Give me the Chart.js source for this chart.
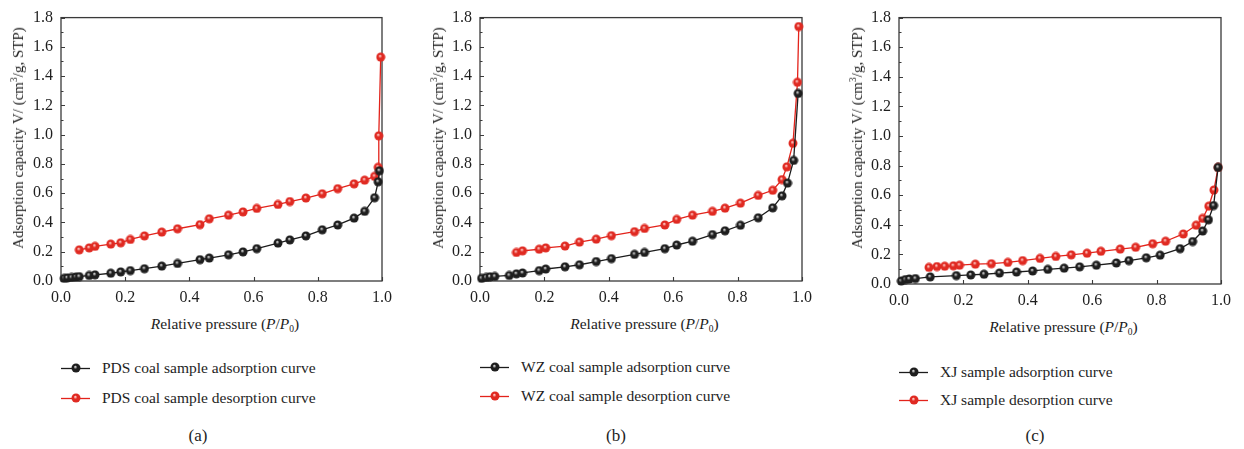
<!DOCTYPE html>
<html>
<head>
<meta charset="utf-8">
<script src="https://cdn.jsdelivr.net/npm/chart.js@4.4.0/dist/chart.umd.min.js"></script>
<style>
  html, body { margin: 0; padding: 0; background: #fff; }
  body { width: 1244px; height: 449px; position: relative; overflow: hidden;
         font-family: 'Liberation Serif', 'Times New Roman', 'DejaVu Serif', serif; color: #1e1e1e; }
  .abs { position: absolute; white-space: nowrap; }
  .ytitle { font-size: 15px; transform: translate(-50%, -50%) rotate(-90deg); }
  .xtitle { font-size: 15.5px; transform: translate(-50%, -50%); }
  .leg { font-size: 15.5px; transform: translateY(-50%); }
  .cap { font-size: 17px; transform: translate(-50%, -50%); }
  sup { font-size: 9.5px; vertical-align: 6px; }
  sub { font-size: 9.5px; vertical-align: -3px; }
</style>
</head>
<body>
<script>
// ---- data ----
// (a) PDS coal
const pdsAdsX = [0.01, 0.02, 0.033, 0.046, 0.057, 0.088, 0.106, 0.155, 0.186, 0.216, 0.26, 0.314, 0.363, 0.433, 0.462, 0.522, 0.567, 0.61, 0.676, 0.713, 0.763, 0.814, 0.862, 0.913, 0.946, 0.977, 0.988, 0.992];
const pdsAdsY = [0.018, 0.021, 0.024, 0.027, 0.03, 0.038, 0.042, 0.053, 0.062, 0.071, 0.084, 0.102, 0.12, 0.146, 0.157, 0.179, 0.199, 0.221, 0.259, 0.281, 0.308, 0.35, 0.383, 0.43, 0.476, 0.569, 0.678, 0.753];
const pdsDesX = [0.057, 0.088, 0.106, 0.155, 0.186, 0.216, 0.26, 0.314, 0.363, 0.433, 0.462, 0.522, 0.567, 0.61, 0.676, 0.713, 0.763, 0.814, 0.862, 0.913, 0.946, 0.977, 0.988, 0.990, 0.996];
const pdsDesY = [0.213, 0.226, 0.237, 0.252, 0.261, 0.284, 0.308, 0.334, 0.357, 0.385, 0.425, 0.45, 0.472, 0.496, 0.523, 0.543, 0.567, 0.596, 0.631, 0.664, 0.689, 0.715, 0.777, 0.992, 1.53];

// (b) WZ coal
const wzAdsX = [0.005, 0.019, 0.031, 0.046, 0.091, 0.113, 0.132, 0.184, 0.204, 0.264, 0.309, 0.361, 0.408, 0.48, 0.511, 0.574, 0.611, 0.66, 0.722, 0.761, 0.809, 0.864, 0.909, 0.938, 0.955, 0.974, 0.988];
const wzAdsY = [0.018, 0.024, 0.029, 0.031, 0.038, 0.049, 0.055, 0.071, 0.082, 0.097, 0.111, 0.133, 0.153, 0.182, 0.195, 0.221, 0.246, 0.272, 0.317, 0.343, 0.381, 0.432, 0.5, 0.582, 0.669, 0.824, 1.282];
const wzDesX = [0.113, 0.132, 0.184, 0.204, 0.264, 0.309, 0.361, 0.408, 0.48, 0.511, 0.574, 0.611, 0.66, 0.722, 0.761, 0.809, 0.864, 0.909, 0.938, 0.953, 0.972, 0.986, 0.990];
const wzDesY = [0.195, 0.206, 0.217, 0.226, 0.239, 0.266, 0.286, 0.31, 0.337, 0.359, 0.383, 0.421, 0.45, 0.476, 0.498, 0.532, 0.585, 0.62, 0.693, 0.78, 0.941, 1.358, 1.739];

// (c) XJ
const xjAdsX = [0.007, 0.02, 0.032, 0.051, 0.097, 0.178, 0.223, 0.264, 0.312, 0.365, 0.415, 0.462, 0.513, 0.561, 0.613, 0.675, 0.714, 0.768, 0.811, 0.873, 0.912, 0.943, 0.961, 0.977, 0.991];
const xjAdsY = [0.02, 0.03, 0.034, 0.037, 0.048, 0.057, 0.061, 0.066, 0.074, 0.081, 0.088, 0.099, 0.107, 0.116, 0.127, 0.142, 0.158, 0.177, 0.195, 0.239, 0.287, 0.358, 0.434, 0.53, 0.788];
const xjDesX = [0.093, 0.118, 0.142, 0.169, 0.188, 0.237, 0.287, 0.338, 0.384, 0.438, 0.487, 0.535, 0.584, 0.627, 0.687, 0.735, 0.788, 0.828, 0.883, 0.923, 0.943, 0.962, 0.978, 0.991];
const xjDesY = [0.112, 0.118, 0.12, 0.123, 0.127, 0.134, 0.137, 0.146, 0.158, 0.173, 0.186, 0.197, 0.208, 0.221, 0.236, 0.248, 0.272, 0.289, 0.338, 0.397, 0.443, 0.526, 0.635, 0.788];

const xTicks = [0, 0.2, 0.4, 0.6, 0.8, 1.0];
const yTicks = [0, 0.2, 0.4, 0.6, 0.8, 1.0, 1.2, 1.4, 1.6, 1.8];

const legendA = ['PDS coal sample adsorption curve', 'PDS coal sample desorption curve'];
const legendB = ['WZ coal sample adsorption curve', 'WZ coal sample desorption curve'];
const legendC = ['XJ sample adsorption curve', 'XJ sample desorption curve'];

const BLACK = '#1c1c1c';
const RED = '#e3231b';
const FONT = "'Liberation Serif', 'Times New Roman', 'DejaVu Serif', serif";

// little shaded ball used as marker
function ball(fill, light) {
  const c = document.createElement('canvas');
  c.width = 10; c.height = 10;
  const g = c.getContext('2d');
  const grad = g.createRadialGradient(4.2, 3.8, 0.3, 5, 5, 5);
  grad.addColorStop(0, light);
  grad.addColorStop(0.35, fill);
  grad.addColorStop(1, fill);
  g.fillStyle = grad;
  g.beginPath(); g.arc(5, 5, 4.5, 0, Math.PI * 2); g.fill();
  return c;
}
const blackBall = ball('#1e1e1e', '#d8d8d8');
const redBall = ball('#e02a22', '#ffd0cc');

function pts(xs, ys) { return xs.map((x, i) => ({ x: x, y: ys[i] })); }

// frame + inward ticks
const framePlugin = {
  id: 'frame',
  beforeDatasetsDraw(chart) {
    const { ctx, chartArea: a, scales } = chart;
    ctx.save();
    ctx.strokeStyle = '#3a3a3a';
    ctx.lineWidth = 1.3;
    ctx.strokeRect(a.left, a.top, a.right - a.left, a.bottom - a.top);
    ctx.lineWidth = 1.1;
    ctx.beginPath();
    for (let v = 0; v <= 1.8001; v += 0.1) {
      const y = Math.round(scales.y.getPixelForValue(v)) + 0.5;
      const major = Math.round(v * 10) % 2 === 0;
      ctx.moveTo(a.left, y); ctx.lineTo(a.left + (major ? 4 : 2.5), y);
    }
    xTicks.forEach(v => {
      const x = Math.round(scales.x.getPixelForValue(v)) + 0.5;
      ctx.moveTo(x, a.bottom); ctx.lineTo(x, a.bottom - 4);
    });
    ctx.stroke();
    ctx.restore();
  }
};

function addText(cls, left, top, html) {
  const d = document.createElement('div');
  d.className = 'abs ' + cls;
  d.style.left = left + 'px';
  d.style.top = top + 'px';
  d.innerHTML = html;
  document.body.appendChild(d);
}

function legendSwatch(left, top, color, img) {
  const c = document.createElement('canvas');
  c.width = 30; c.height = 12;
  c.style.position = 'absolute';
  c.style.left = left + 'px';
  c.style.top = (top - 6) + 'px';
  const g = c.getContext('2d');
  g.strokeStyle = color; g.lineWidth = 1.3;
  g.beginPath(); g.moveTo(0, 6.5); g.lineTo(29, 6.5); g.stroke();
  g.drawImage(img, 10, 1);
  document.body.appendChild(c);
}

function makePanel(p) {
  const yAxisW = 45, padR = 16, h = 312;
  const w = (p.right - p.left) + yAxisW + padR;
  const wrap = document.createElement('div');
  wrap.style.position = 'absolute';
  wrap.style.left = (p.left - yAxisW) + 'px';
  wrap.style.top = '0px';
  wrap.style.width = w + 'px';
  wrap.style.height = h + 'px';
  const cv = document.createElement('canvas');
  wrap.appendChild(cv);
  document.body.appendChild(wrap);

  new Chart(cv.getContext('2d'), {
    type: 'line',
    data: {
      datasets: [
        { data: pts(p.adsX, p.adsY), borderColor: BLACK, borderWidth: 1.3, pointStyle: blackBall, clip: false },
        { data: pts(p.desX, p.desY), borderColor: RED, borderWidth: 1.3, pointStyle: redBall, clip: false }
      ]
    },
    options: {
      responsive: true,
      maintainAspectRatio: false,
      animation: false,
      layout: { padding: { top: p.top, right: padR, left: 0, bottom: 0 } },
      plugins: { legend: { display: false }, tooltip: { enabled: false } },
      elements: { line: { tension: 0 }, point: { radius: 4.5 } },
      scales: {
        x: {
          type: 'linear', min: 0, max: 1,
          afterFit: s => { s.height = h - p.bottom; },
          afterBuildTicks: s => { s.ticks = xTicks.map(v => ({ value: v })); },
          grid: { display: false, drawTicks: false }, border: { display: false },
          ticks: { color: '#1e1e1e', padding: 7, maxRotation: 0, font: { family: FONT, size: 16 },
                   callback: v => v.toFixed(1) }
        },
        y: {
          type: 'linear', min: 0, max: 1.8,
          afterFit: s => { s.width = yAxisW; },
          afterBuildTicks: s => { s.ticks = yTicks.map(v => ({ value: v })); },
          grid: { display: false, drawTicks: false }, border: { display: false },
          ticks: { color: '#1e1e1e', padding: 8, font: { family: FONT, size: 16 },
                   callback: v => v.toFixed(1) }
        }
      }
    },
    plugins: [framePlugin]
  });

  const cx = (p.left + p.right) / 2;
  addText('ytitle', p.ytX, 138, 'Adsorption capacity V/ (cm<sup>3</sup>/g, STP)');
  addText('xtitle', cx + 3, p.xtY, '<i>R</i>elative pressure (<i>P</i>/<i>P</i><sub>0</sub>)');
  legendSwatch(p.left, p.legY[0], BLACK, blackBall);
  legendSwatch(p.left, p.legY[1], RED, redBall);
  addText('leg', p.left + 41, p.legY[0], p.legend[0]);
  addText('leg', p.left + 41, p.legY[1], p.legend[1]);
  addText('cap', p.capX, 436, p.cap);
}

makePanel({ left: 61, right: 383, top: 10, bottom: 281, ytX: 18, xtY: 324, legY: [368, 398], capX: 198, cap: '(a)',
            adsX: pdsAdsX, adsY: pdsAdsY, desX: pdsDesX, desY: pdsDesY, legend: legendA });
makePanel({ left: 480, right: 803, top: 10, bottom: 281, ytX: 438, xtY: 324, legY: [367, 396], capX: 616, cap: '(b)',
            adsX: wzAdsX, adsY: wzAdsY, desX: wzDesX, desY: wzDesY, legend: legendB });
makePanel({ left: 899, right: 1222, top: 10, bottom: 284, ytX: 857, xtY: 327, legY: [372, 400], capX: 1035, cap: '(c)',
            adsX: xjAdsX, adsY: xjAdsY, desX: xjDesX, desY: xjDesY, legend: legendC });
</script>
</body>
</html>
